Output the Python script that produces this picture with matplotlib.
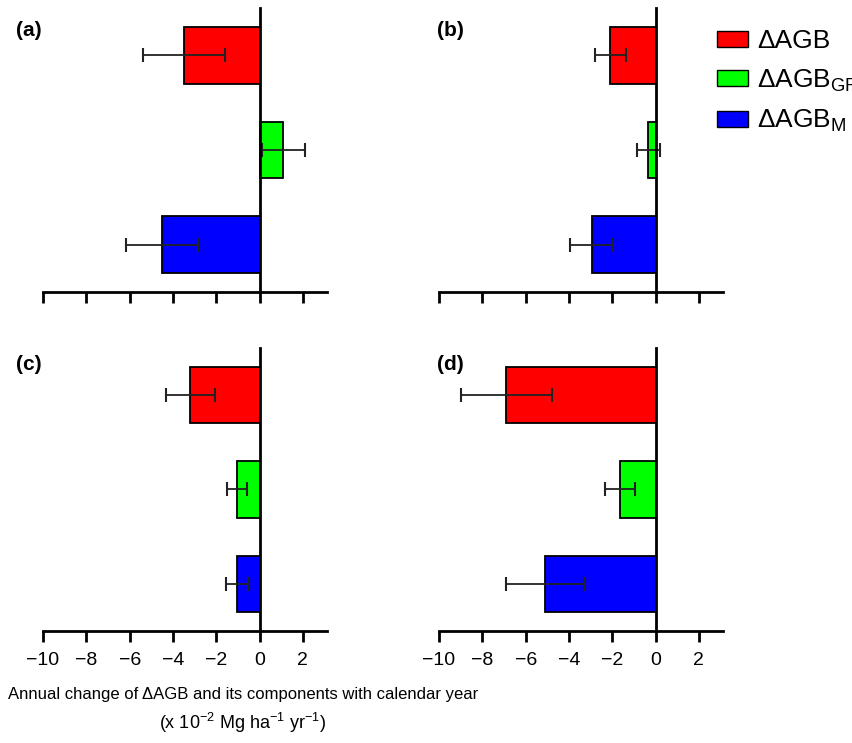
import matplotlib
matplotlib.use("Agg")
import matplotlib.pyplot as plt
from matplotlib.patches import Patch

plt.rcParams['font.family'] = ['Liberation Sans', 'DejaVu Sans']
plt.rcParams['mathtext.fontset'] = 'custom'
plt.rcParams['mathtext.rm'] = 'Liberation Sans'
plt.rcParams['mathtext.it'] = 'Liberation Sans:italic'
plt.rcParams['mathtext.bf'] = 'Liberation Sans:bold'

components = ["ΔAGB", r"ΔAGB$_{\mathrm{GR}}$", r"ΔAGB$_{\mathrm{M}}$"]
colors = ["#ff0000", "#00ff00", "#0000ff"]
panels = ["(a)", "(b)", "(c)", "(d)"]

# values (x 10^-2 Mg ha-1 yr-1), order: dAGB, dAGB_GR, dAGB_M
values = {
    "(a)": [-3.5, 1.1, -4.5],
    "(b)": [-2.1, -0.33, -2.95],
    "(c)": [-3.2, -1.03, -1.05],
    "(d)": [-6.9, -1.63, -5.1],
}
errors = {
    "(a)": [1.9, 1.0, 1.65],
    "(b)": [0.72, 0.52, 1.0],
    "(c)": [1.13, 0.47, 0.5],
    "(d)": [2.1, 0.7, 1.83],
}
xticks = [-10, -8, -6, -4, -2, 0, 2]

fig = plt.figure(figsize=(8.52, 7.43), dpi=100)

boxes = {
    "(a)": [0.0505, 0.607, 0.333, 0.382],
    "(b)": [0.5153, 0.607, 0.333, 0.382],
    "(c)": [0.0505, 0.1507, 0.333, 0.381],
    "(d)": [0.5153, 0.1507, 0.333, 0.381],
}
label_pos = {"(a)": (16, 31), "(b)": (437, 30), "(c)": (16, 364), "(d)": (437, 364)}

ypos = [2, 1, 0]
for p in panels:
    ax = fig.add_axes(boxes[p])
    ax.barh(ypos, values[p], height=0.6, color=colors, edgecolor="black", linewidth=1.3, zorder=2)
    ax.errorbar(values[p], ypos, xerr=errors[p], fmt="none", ecolor="#222222",
                elinewidth=1.3, capsize=5, capthick=1.5, zorder=3)
    ax.set_xlim(-10, 3.1)
    ax.set_ylim(-0.5, 2.5)
    ax.spines["top"].set_visible(False)
    ax.spines["right"].set_visible(False)
    ax.spines["left"].set_position(("data", 0))
    ax.spines["left"].set_linewidth(2)
    ax.spines["left"].set_zorder(4)
    ax.spines["bottom"].set_linewidth(2)
    ax.set_yticks([])
    ax.set_xticks(xticks)
    ax.tick_params(axis="x", direction="out", length=8, width=2, labelsize=14, pad=7)
    if p in ("(a)", "(b)"):
        ax.set_xticklabels([])
    fig.text(label_pos[p][0] / 852, 1 - label_pos[p][1] / 743, p, fontsize=15,
             fontweight="bold", va="center", ha="left")

handles = [Patch(facecolor=c, edgecolor="black", linewidth=1) for c in colors]
fig.legend(handles, components, loc="upper left", bbox_to_anchor=(717 / 852, 1 - 29 / 743),
           frameon=False, handlelength=1.17, handleheight=0.57,
           handletextpad=0.34, labelspacing=0.55, borderaxespad=0, borderpad=0,
           prop={"size": 19})

fig.text(243 / 852, 1 - 694 / 743, "Annual change of ΔAGB and its components with calendar year",
         ha="center", va="center", fontsize=12)
fig.text(243 / 852, 1 - 723 / 743, r"(x 10$^{-2}$ Mg ha$^{-1}$ yr$^{-1}$)",
         ha="center", va="center", fontsize=13)

fig.savefig("out.png", dpi=100)
